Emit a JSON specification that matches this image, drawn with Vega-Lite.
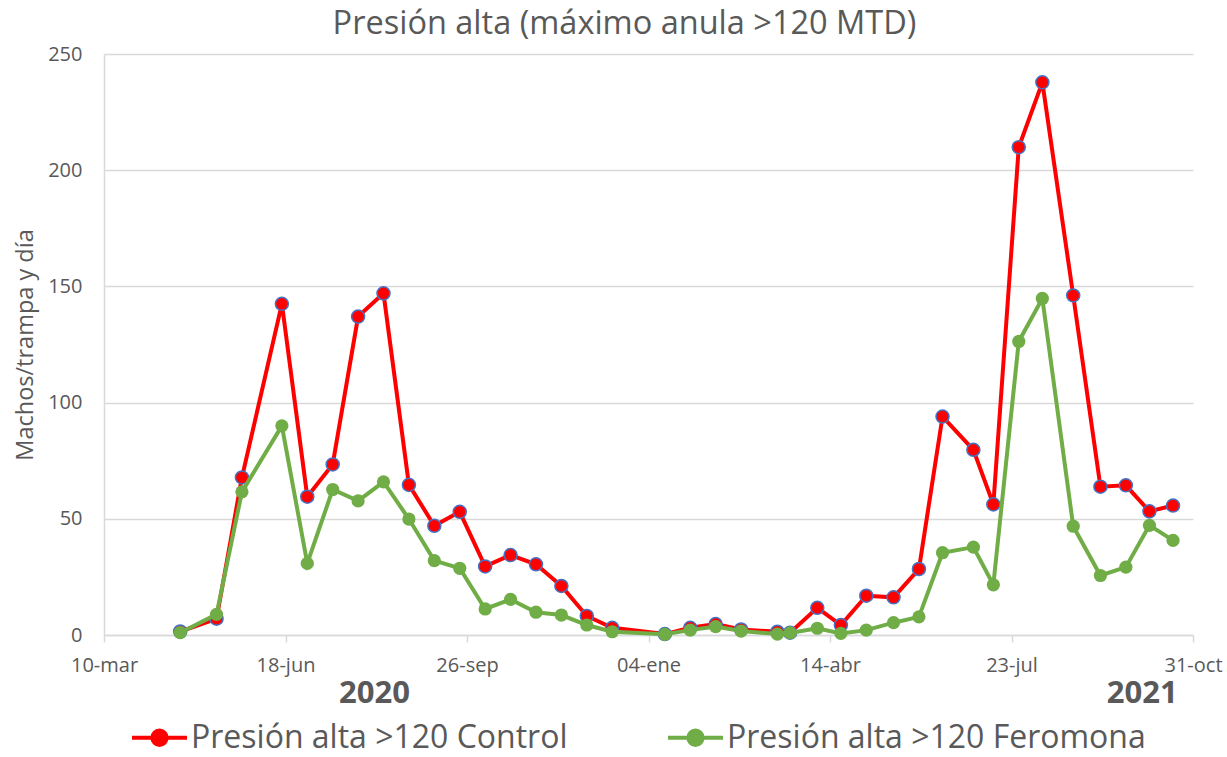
{
  "$schema": "https://vega.github.io/schema/vega-lite/v6.json",
  "width": 1089,
  "height": 581,
  "autosize": "none",
  "padding": {"left": 104, "top": 54, "right": 34, "bottom": 122},
  "background": "white",
  "config": {
    "font": "Open Sans",
    "view": {"stroke": null},
    "axis": {"labelColor": "#595959", "titleColor": "#595959", "gridColor": "#d9d9d9", "domainColor": "#d9d9d9", "tickColor": "#d9d9d9", "labelFont": "Open Sans", "titleFont": "Open Sans"}
  },
  "title": {"text": "Presión alta (máximo anula >120 MTD)", "fontSize": 32.5, "font": "Open Sans", "fontWeight": "normal", "color": "#595959", "anchor": "middle", "offset": 4, "dx": -24},
  "datasets": {
    "serie": [
      {"fecha": "2020-04-21", "Control": 1.5, "Feromona": 1.0},
      {"fecha": "2020-05-11", "Control": 7.0, "Feromona": 8.9},
      {"fecha": "2020-05-25", "Control": 67.8, "Feromona": 61.6},
      {"fecha": "2020-06-16", "Control": 142.5, "Feromona": 90.0},
      {"fecha": "2020-06-30", "Control": 59.5, "Feromona": 30.8},
      {"fecha": "2020-07-14", "Control": 73.4, "Feromona": 62.6},
      {"fecha": "2020-07-28", "Control": 137.0, "Feromona": 57.7},
      {"fecha": "2020-08-11", "Control": 147.0, "Feromona": 65.9},
      {"fecha": "2020-08-25", "Control": 64.6, "Feromona": 49.9},
      {"fecha": "2020-09-08", "Control": 47.0, "Feromona": 32.0},
      {"fecha": "2020-09-22", "Control": 53.0, "Feromona": 28.7},
      {"fecha": "2020-10-06", "Control": 29.5, "Feromona": 11.2},
      {"fecha": "2020-10-20", "Control": 34.4, "Feromona": 15.3},
      {"fecha": "2020-11-03", "Control": 30.4, "Feromona": 9.8},
      {"fecha": "2020-11-17", "Control": 21.1, "Feromona": 8.6},
      {"fecha": "2020-12-01", "Control": 8.2, "Feromona": 4.3},
      {"fecha": "2020-12-15", "Control": 3.1, "Feromona": 1.4},
      {"fecha": "2021-01-13", "Control": 0.4, "Feromona": 0.3},
      {"fecha": "2021-01-27", "Control": 3.1, "Feromona": 2.1},
      {"fecha": "2021-02-10", "Control": 4.7, "Feromona": 3.6},
      {"fecha": "2021-02-24", "Control": 2.4, "Feromona": 1.7},
      {"fecha": "2021-03-16", "Control": 1.4, "Feromona": 0.4},
      {"fecha": "2021-03-23", "Control": 1.0, "Feromona": 0.9},
      {"fecha": "2021-04-07", "Control": 11.7, "Feromona": 2.9},
      {"fecha": "2021-04-20", "Control": 4.3, "Feromona": 0.7},
      {"fecha": "2021-05-04", "Control": 16.9, "Feromona": 2.1},
      {"fecha": "2021-05-19", "Control": 16.2, "Feromona": 5.3},
      {"fecha": "2021-06-02", "Control": 28.4, "Feromona": 7.8},
      {"fecha": "2021-06-15", "Control": 94.0, "Feromona": 35.4},
      {"fecha": "2021-07-02", "Control": 79.7, "Feromona": 37.8},
      {"fecha": "2021-07-13", "Control": 56.2, "Feromona": 21.6},
      {"fecha": "2021-07-27", "Control": 209.9, "Feromona": 126.3},
      {"fecha": "2021-08-09", "Control": 237.8, "Feromona": 144.8},
      {"fecha": "2021-08-26", "Control": 146.1, "Feromona": 46.8},
      {"fecha": "2021-09-10", "Control": 63.8, "Feromona": 25.6},
      {"fecha": "2021-09-24", "Control": 64.4, "Feromona": 29.2},
      {"fecha": "2021-10-07", "Control": 53.2, "Feromona": 47.2},
      {"fecha": "2021-10-20", "Control": 55.7, "Feromona": 40.7}
    ],
    "anios": [
      {"fecha": "2020-08-06", "anio": "2020"},
      {"fecha": "2021-10-03", "anio": "2021"}
    ]
  },
  "encoding": {
    "x": {
      "field": "fecha", "type": "temporal",
      "scale": {"type": "utc", "domain": [{"year": 2020, "month": 3, "date": 10, "utc": true}, {"year": 2021, "month": 10, "date": 31, "utc": true}]},
      "axis": {
        "title": null,
        "values": [
          {"year": 2020, "month": 3, "date": 10, "utc": true},
          {"year": 2020, "month": 6, "date": 18, "utc": true},
          {"year": 2020, "month": 9, "date": 26, "utc": true},
          {"year": 2021, "month": 1, "date": 4, "utc": true},
          {"year": 2021, "month": 4, "date": 14, "utc": true},
          {"year": 2021, "month": 7, "date": 23, "utc": true},
          {"year": 2021, "month": 10, "date": 31, "utc": true}
        ],
        "labelExpr": "utcFormat(datum.value, '%d') + '-' + ['ene','feb','mar','abr','may','jun','jul','ago','sep','oct','nov','dic'][utcmonth(datum.value)]",
        "grid": false, "domain": true, "domainWidth": 1.5, "ticks": true, "tickSize": 7, "tickWidth": 1.5,
        "labelFontSize": 20, "labelPadding": 13, "labelFlush": false, "labelOverlap": false
      }
    }
  },
  "layer": [
    {
      "data": {"name": "serie"},
      "transform": [{"fold": ["Control", "Feromona"], "as": ["tipo", "valor"]}, {"filter": "datum.tipo === 'Control'"}],
      "encoding": {
        "y": {
          "field": "valor", "type": "quantitative",
          "scale": {"domain": [0, 250], "nice": false},
          "axis": {
            "title": "Machos/trampa y día", "titleFontSize": 23.5, "titleFontWeight": "normal", "titlePadding": 10,
            "values": [0, 50, 100, 150, 200, 250],
            "grid": true, "gridWidth": 1.5, "domain": true, "domainWidth": 1.5, "ticks": false,
            "labelFontSize": 20, "labelPadding": 22
          }
        }
      },
      "layer": [
        {
          "mark": {"type": "line", "strokeWidth": 4},
          "encoding": {
            "color": {
              "field": "tipo", "type": "nominal",
              "scale": {"domain": ["Control", "Feromona"], "range": ["#ff0000", "#70ad47"]},
              "legend": {
                "orient": "none", "legendX": 26, "legendY": 654, "direction": "horizontal", "title": null,
                "labelExpr": "'Presión alta >120 ' + datum.label",
                "labelFontSize": 32, "labelFont": "Open Sans", "labelColor": "#595959", "labelOffset": 2, "labelLimit": 600,
                "symbolType": "M-1,0L1,0M0.26,0A0.26,0.26,0,1,1,-0.26,0A0.26,0.26,0,1,1,0.26,0Z",
                "symbolSize": 3025, "symbolStrokeWidth": 4, "columnPadding": 92,
                "encode": {"symbols": {"update": {"fill": {"scale": "color", "field": "value"}, "fillOpacity": {"value": 1}}}}
              }
            }
          }
        },
        {
          "mark": {"type": "point", "filled": true, "size": 170, "stroke": "#4472c4", "strokeWidth": 1.5, "opacity": 1, "fill": "#ff0000"}
        }
      ]
    },
    {
      "data": {"name": "serie"},
      "transform": [{"fold": ["Control", "Feromona"], "as": ["tipo", "valor"]}, {"filter": "datum.tipo === 'Feromona'"}],
      "encoding": {"y": {"field": "valor", "type": "quantitative"}},
      "layer": [
        {
          "mark": {"type": "line", "strokeWidth": 4},
          "encoding": {"color": {"field": "tipo", "type": "nominal"}}
        },
        {
          "mark": {"type": "point", "filled": true, "size": 175, "opacity": 1, "fill": "#70ad47", "strokeWidth": 0}
        }
      ]
    },
    {
      "data": {"name": "anios"},
      "mark": {"type": "text", "fontSize": 31, "fontWeight": "bold", "font": "Open Sans", "fill": "#595959", "baseline": "middle", "align": "center"},
      "encoding": {
        "y": {"datum": -25.5, "type": "quantitative"},
        "text": {"field": "anio", "type": "nominal"}
      }
    }
  ]
}
